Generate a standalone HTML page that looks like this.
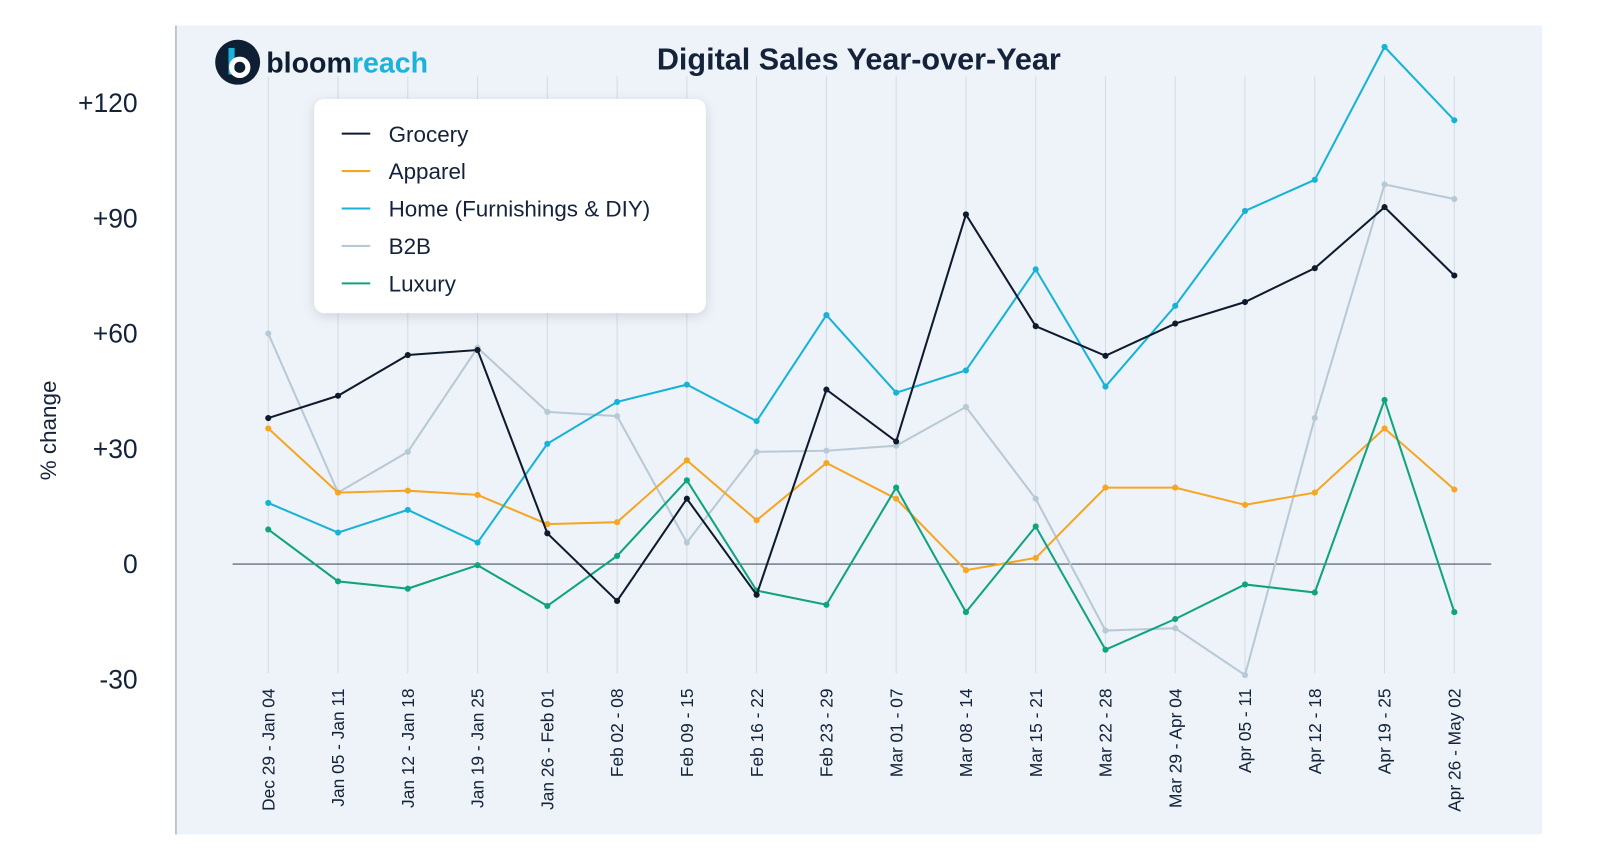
<!DOCTYPE html>
<html><head><meta charset="utf-8"><style>
html,body{margin:0;padding:0;background:#fff;}
body{width:1600px;height:860px;overflow:hidden;font-family:"Liberation Sans",sans-serif;}
</style></head><body>
<svg id="chart" width="1600" height="860" xmlns="http://www.w3.org/2000/svg" font-family="Liberation Sans, sans-serif">
<g transform="scale(1.02)">
<rect x="172" y="25" width="1340" height="793" fill="#edf3f9"/>
<line x1="172.5" y1="25" x2="172.5" y2="818" stroke="#8a9aab" stroke-width="1"/>
<g>
<circle cx="233" cy="61" r="22" fill="#0f1f33"/>
<rect x="224" y="47" width="6" height="26" fill="#1bb3d9"/>
<circle cx="235" cy="66" r="8" fill="none" stroke="#fff" stroke-width="5"/>
<text x="261" y="71" font-size="28" font-weight="bold" fill="#0f1f33">bloom<tspan fill="#1bb3d9">reach</tspan></text>
</g>
<text x="842" y="68" font-size="30" font-weight="bold" fill="#14233a" text-anchor="middle">Digital Sales Year-over-Year</text>
<text transform="translate(55,422) rotate(-90)" font-size="22" fill="#14233a" text-anchor="middle">% change</text>
<g id="grid"></g><g id="yticks"></g><g id="xticks"></g><g id="series"></g>
<g>
<rect x="308" y="97" width="384" height="210" rx="10" fill="#fff" style="filter:drop-shadow(0 3px 6px rgba(0,0,0,0.12))"/>
<g id="legend-items"></g>
</g>
</g>
</svg>
<script>
const categories=["Dec 29 - Jan 04","Jan 05 - Jan 11","Jan 12 - Jan 18","Jan 19 - Jan 25","Jan 26 - Feb 01","Feb 02 - 08","Feb 09 - 15","Feb 16 - 22","Feb 23 - 29","Mar 01 - 07","Mar 08 - 14","Mar 15 - 21","Mar 22 - 28","Mar 29 - Apr 04","Apr 05 - 11","Apr 12 - 18","Apr 19 - 25","Apr 26 - May 02"];
const grocery=[38,43.8,54.4,55.7,8,-9.6,17,-8,45.4,31.9,91,61.9,54.2,62.6,68.2,77,92.9,75.1];
const apparel=[35.3,18.6,19.1,18,10.4,10.9,27,11.4,26.3,17,-1.6,1.6,19.9,19.9,15.4,18.6,35.3,19.4];
const home=[15.9,8.2,14.1,5.6,31.3,42.2,46.7,37.2,64.8,44.6,50.4,76.7,46.2,67.2,91.9,100,134.6,115.5];
const b2b=[60,18.6,29.2,56.3,39.6,38.5,5.6,29.2,29.5,30.8,40.9,17,-17.3,-16.7,-28.9,38,98.8,95];
const luxury=[9,-4.5,-6.4,-0.3,-10.9,2.1,21.8,-6.9,-10.6,19.9,-12.5,9.8,-22.3,-14.3,-5.3,-7.4,42.7,-12.5];
const yTicks=[120,90,60,30,0,-30];
const yTickLabels=["+120","+90","+60","+30","0","-30"];
const seriesNames=["Grocery","Apparel","Home (Furnishings & DIY)","B2B","Luxury"];
const NS="http://www.w3.org/2000/svg";
const colors=["#0f1b2d","#f5a623","#17b3d6","#b8c9d6","#10a37f"];
const seriesData=[grocery,apparel,home,b2b,luxury];
const xs=i=>263+i*68.4;
const ys=v=>553-v*3.767;
function mk(t,a,p){const e=document.createElementNS(NS,t);for(const k in a)e.setAttribute(k,a[k]);p.appendChild(e);return e;}
const grid=document.getElementById('grid');
categories.forEach((c,i)=>{const l=mk('line',{x1:xs(i),x2:xs(i),y1:75,y2:660,stroke:'#d3dbe3','stroke-width':1},grid);

});
const z=mk('line',{x1:228,x2:1462,y1:ys(0),y2:ys(0),stroke:'#4a5566','stroke-width':1},grid);


const yt=document.getElementById('yticks');
yTicks.forEach((v,i)=>{const t=mk('text',{x:135,y:ys(v)+9,'font-size':26,fill:'#14233a','text-anchor':'end'},yt);t.textContent=yTickLabels[i];

});
const xt=document.getElementById('xticks');
categories.forEach((c,i)=>{const t=mk('text',{transform:`translate(${xs(i)+6},675) rotate(-90)`,'font-size':17,fill:'#14233a','text-anchor':'end'},xt);t.textContent=c;

});
const sg=document.getElementById('series');
[3,1,4,2,0].forEach(k=>{const d=seriesData[k];const g=mk('g',{},sg);


mk('polyline',{points:d.map((v,i)=>xs(i)+','+ys(v)).join(' '),fill:'none',stroke:colors[k],'stroke-width':2},g);
d.forEach((v,i)=>{const c=mk('circle',{cx:xs(i),cy:ys(v),r:3,fill:colors[k]},g);

});});
const lg=document.getElementById('legend-items');
seriesNames.forEach((n,i)=>{const y=131+i*36.7;const g=mk('g',{},lg);


mk('line',{x1:335,x2:363,y1:y,y2:y,stroke:colors[i],'stroke-width':2},g);
const t=mk('text',{x:381,y:y+8,'font-size':22,fill:'#14233a'},g);t.textContent=n;});
</script>
</body></html>
